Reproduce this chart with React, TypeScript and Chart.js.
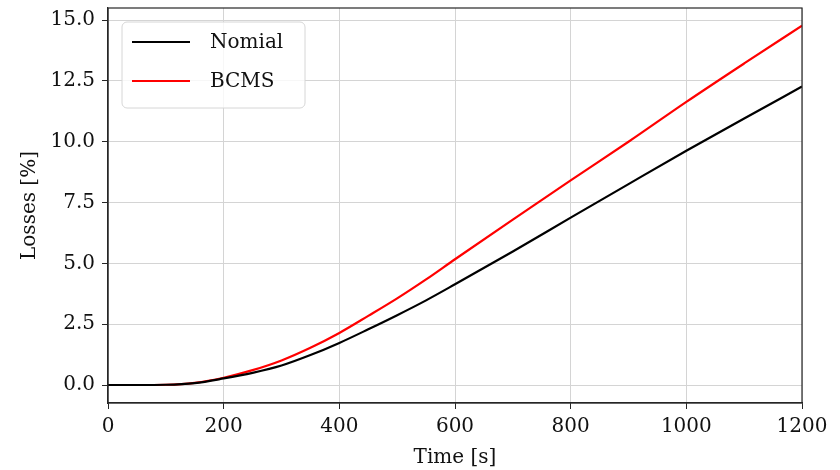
import { useEffect, useRef } from "react";
import { Chart, registerables } from "chart.js";

Chart.register(...registerables);

// Time axis samples [s]
const timeS = [0, 50, 100, 150, 200, 250, 300, 350, 400, 450, 500, 550, 600, 700, 800, 900, 1000, 1100, 1200];
// Losses [%] for the nominal case
const nominalLoss = [0, 0, 0.01, 0.08, 0.27, 0.5, 0.8, 1.23, 1.73, 2.29, 2.87, 3.48, 4.14, 5.49, 6.88, 8.26, 9.63, 10.96, 12.27];
// Losses [%] with BCMS
const bcmsLoss = [0, 0, 0.01, 0.09, 0.3, 0.61, 1.01, 1.53, 2.14, 2.84, 3.56, 4.34, 5.17, 6.8, 8.41, 10.0, 11.64, 13.22, 14.77];

const xTicks = [0, 200, 400, 600, 800, 1000, 1200];
const yTicks = [0, 2.5, 5, 7.5, 10, 12.5, 15];

const seriesLabels = ["Nomial", "BCMS"];
const seriesColors = ["#000000", "#ff0000"];

const FONT = "'DejaVu Serif', serif";
const FONT_SIZE = 20;

// Frame around the whole plotting area (top and right edges included)
const framePlugin = {
  id: "frame",
  afterDatasetsDraw(chart: any) {
    const { ctx, chartArea: a } = chart;
    ctx.save();
    ctx.strokeStyle = "#262626";
    ctx.lineWidth = 1.2;
    ctx.strokeRect(a.left, a.top, a.right - a.left, a.bottom - a.top);
    ctx.restore();
  },
};

// Boxed legend in the upper-left corner of the plotting area
const boxLegendPlugin = {
  id: "boxLegend",
  afterDraw(chart: any) {
    const { ctx, chartArea: a } = chart;
    const x = a.left + 14;
    const y = a.top + 14;
    const w = 183;
    const h = 86;
    const r = 5;
    ctx.save();
    ctx.beginPath();
    ctx.moveTo(x + r, y);
    ctx.arcTo(x + w, y, x + w, y + h, r);
    ctx.arcTo(x + w, y + h, x, y + h, r);
    ctx.arcTo(x, y + h, x, y, r);
    ctx.arcTo(x, y, x + w, y, r);
    ctx.closePath();
    ctx.fillStyle = "rgba(255,255,255,0.8)";
    ctx.fill();
    ctx.strokeStyle = "#d6d6d6";
    ctx.lineWidth = 1;
    ctx.stroke();
    ctx.font = `${FONT_SIZE}px ${FONT}`;
    ctx.textBaseline = "middle";
    ctx.textAlign = "left";
    chart.data.datasets.forEach((ds: any, i: number) => {
      const rowY = y + 20 + i * 39;
      ctx.beginPath();
      ctx.moveTo(x + 10, rowY);
      ctx.lineTo(x + 68, rowY);
      ctx.strokeStyle = ds.borderColor;
      ctx.lineWidth = 2.2;
      ctx.stroke();
      ctx.fillStyle = "#111111";
      ctx.fillText(ds.label, x + 88, rowY + 1);
    });
    ctx.restore();
  },
};

function fixScalePadding(scale: any) {
  scale.paddingTop = 0;
  scale.paddingBottom = 0;
  scale.paddingLeft = 0;
  scale.paddingRight = 0;
}

export default function App() {
  const canvasRef = useRef<HTMLCanvasElement | null>(null);

  useEffect(() => {
    const canvas = canvasRef.current;
    if (!canvas) return;
    const series = [nominalLoss, bcmsLoss];
    const chart = new Chart(canvas, {
      type: "line",
      data: {
        datasets: series.map((vals, i) => ({
          label: seriesLabels[i],
          data: timeS.map((t, j) => ({ x: t, y: vals[j] })),
          borderColor: seriesColors[i],
          backgroundColor: seriesColors[i],
          borderWidth: 2.2,
          pointRadius: 0,
          cubicInterpolationMode: "monotone" as const,
          fill: false,
        })),
      },
      options: {
        animation: false,
        responsive: false,
        devicePixelRatio: 1,
        layout: { padding: { top: 8, right: 38, left: 0, bottom: 0 } },
        plugins: {
          legend: { display: false },
          tooltip: { enabled: false },
        },
        scales: {
          x: {
            type: "linear",
            min: 0,
            max: 1200,
            afterFit(scale: any) {
              scale.height = 67;
              fixScalePadding(scale);
            },
            afterBuildTicks(scale: any) {
              scale.ticks = xTicks.map((v) => ({ value: v }));
            },
            ticks: {
              color: "#111111",
              font: { family: FONT, size: FONT_SIZE },
              padding: 6,
              maxRotation: 0,
              callback: (v: any) => String(v),
            },
            grid: {
              color: "#d4d4d4",
              lineWidth: 1,
              tickColor: "#262626",
              tickLength: 6,
            },
            border: { color: "#262626", width: 1.2 },
            title: {
              display: true,
              text: "Time [s]",
              color: "#111111",
              font: { family: FONT, size: FONT_SIZE },
              padding: { top: 0, bottom: 0 },
            },
          },
          y: {
            type: "linear",
            min: -0.74,
            max: 15.5,
            afterFit(scale: any) {
              scale.width = 108;
              fixScalePadding(scale);
            },
            afterBuildTicks(scale: any) {
              scale.ticks = yTicks.map((v) => ({ value: v }));
            },
            ticks: {
              color: "#111111",
              font: { family: FONT, size: FONT_SIZE },
              padding: 7,
              callback: (v: any) => Number(v).toFixed(1),
            },
            grid: {
              color: "#d4d4d4",
              lineWidth: 1,
              tickColor: "#262626",
              tickLength: 6,
            },
            border: { color: "#262626", width: 1.2 },
            title: {
              display: true,
              text: "Losses [%]",
              color: "#111111",
              font: { family: FONT, size: FONT_SIZE },
              padding: { top: 18, bottom: 0 },
            },
          },
        },
      },
      plugins: [framePlugin, boxLegendPlugin],
    });
    return () => chart.destroy();
  }, []);

  return (
    <div style={{ position: "fixed", left: 0, top: 0, width: 840, height: 470, background: "#ffffff" }}>
      <canvas ref={canvasRef} width={840} height={470} style={{ width: 840, height: 470 }} />
    </div>
  );
}
